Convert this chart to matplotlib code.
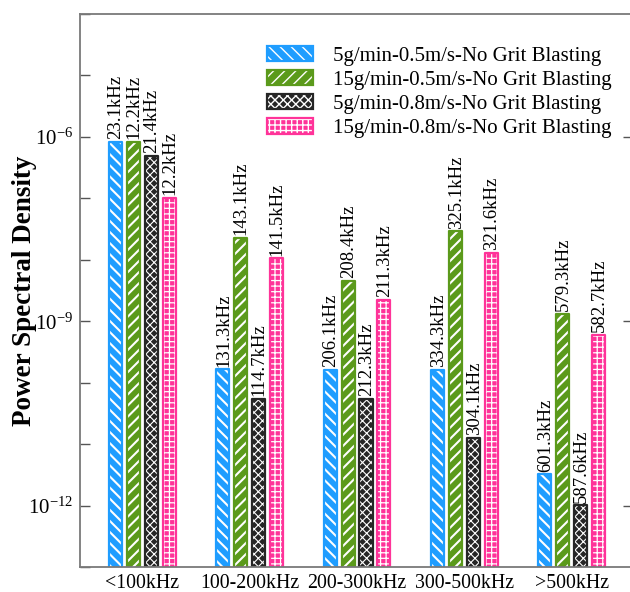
import numpy as np
import matplotlib
matplotlib.use('Agg')
import matplotlib.pyplot as plt
from matplotlib.patches import Patch
from matplotlib.ticker import LogLocator, NullFormatter, FixedLocator

plt.rcParams['font.family'] = ['Liberation Serif', 'DejaVu Serif']
plt.rcParams['mathtext.fontset'] = 'stix'

# datos
categorias = ['<100kHz', '100-200kHz', '200-300kHz', '300-500kHz', '>500kHz']
series = ['5g/min-0.5m/s-No Grit Blasting', '15g/min-0.5m/s-No Grit Blasting',
          '5g/min-0.8m/s-No Grit Blasting', '15g/min-0.8m/s-No Grit Blasting']
psd_5g_05 = [8.3e-7, 1.65e-10, 1.6e-10, 1.6e-10, 3.2e-12]
psd_15g_05 = [8.3e-7, 2.3e-8, 4.5e-9, 2.9e-8, 1.3e-9]
psd_5g_08 = [4.9e-7, 5.5e-11, 5.5e-11, 1.26e-11, 1.0e-12]
psd_15g_08 = [1.03e-7, 1.05e-8, 2.2e-9, 1.3e-8, 6.0e-10]
f_5g_05 = ['23.1kHz', '131.3kHz', '206.1kHz', '334.3kHz', '601.3kHz']
f_15g_05 = ['12.2kHz', '143.1kHz', '208.4kHz', '325.1kHz', '579.3kHz']
f_5g_08 = ['21.4kHz', '114.7kHz', '212.3kHz', '304.1kHz', '587.6kHz']
f_15g_08 = ['12.2kHz', '141.5kHz', '211.3kHz', '321.6kHz', '582.7kHz']

valores = [psd_5g_05, psd_15g_05, psd_5g_08, psd_15g_08]
frecuencias = [f_5g_05, f_15g_05, f_5g_08, f_15g_08]
colores = ['#1f9dff', '#5b9a1b', '#262626', '#ff3399']
tramas = ['\\\\\\', '///', 'xxxx', '+++']
grosor_trama = [1.5, 1.5, 0.8, 0.9]

fig = plt.figure(figsize=(6.3, 5.92), dpi=100)
ax = fig.add_axes([80 / 630, 25 / 592, 553 / 630, 553 / 592])
ax.set_yscale('log')

x = np.arange(len(categorias))
paso = 0.167
ancho = 0.122
handles = []
for i in range(4):
    pos = x + (i - 1.5) * paso
    with plt.rc_context({'hatch.linewidth': grosor_trama[i]}):
        ax.bar(pos, valores[i], width=ancho, bottom=1e-14, color=colores[i],
               edgecolor='white', hatch=tramas[i], linewidth=0)
    borde = ax.bar(pos, valores[i], width=ancho, bottom=1e-14, fill=False,
                   edgecolor=colores[i], linewidth=1.6)
    for b in borde:
        b.set_joinstyle('round')
    for xi, v, t in zip(pos, valores[i], frecuencias[i]):
        ax.annotate(t, (xi, v), xytext=(0.5, 2), textcoords='offset points',
                    rotation=90, ha='center', va='bottom', fontsize=13.5)
    with plt.rc_context({'hatch.linewidth': grosor_trama[i]}):
        h1 = Patch(facecolor=colores[i], edgecolor='white', hatch=tramas[i], linewidth=0)
    h2 = Patch(fill=False, edgecolor=colores[i], linewidth=1.6, joinstyle='round')
    handles.append((h1, h2))

ax.set_xlim(-0.58, 4.57)
ax.set_ylim(1e-13, 1e-4)
ax.set_xticks(x)
ax.set_xticklabels(categorias, fontsize=14.3)
ax.tick_params(axis='x', length=0, pad=5)
ax.yaxis.set_major_locator(FixedLocator([1e-12, 1e-9, 1e-6]))
ax.yaxis.set_minor_locator(LogLocator(base=10, subs=(1.0,), numticks=20))
ax.yaxis.set_minor_formatter(NullFormatter())
ax.tick_params(axis='y', which='major', direction='in', length=7, width=1,
               labelsize=15, right=True, color='#555555', pad=5)
ax.tick_params(axis='y', which='minor', direction='in', length=7, width=1,
               color='#555555')
for s in ax.spines.values():
    s.set_color('#7a7a7a')
    s.set_linewidth(1.3)

ax.set_ylabel('Power Spectral Density', fontsize=19.5, fontweight='bold')
ax.yaxis.set_label_coords(-0.078, 0.5)

ax.legend(handles, series, loc='upper left', bbox_to_anchor=(0.338, 0.942),
          frameon=False, fontsize=15, handlelength=2.2, handleheight=0.75,
          handletextpad=0.95, labelspacing=0.2, borderpad=0, borderaxespad=0)

fig.savefig('out.png', dpi=100)
